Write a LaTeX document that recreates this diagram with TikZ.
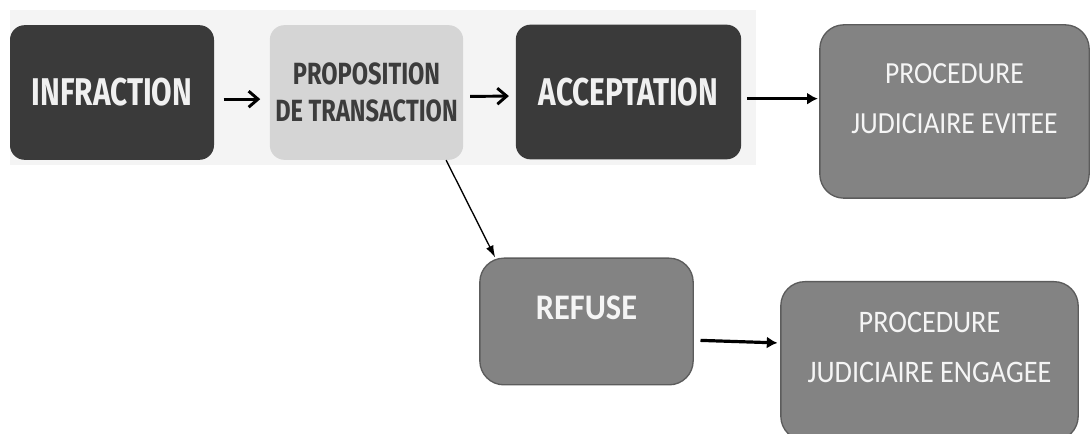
\documentclass[tikz,border=0pt]{standalone}
\usepackage{fontspec}
\usepackage{xcolor}
\usetikzlibrary{arrows.meta,calc}
\definecolor{darkbox}{RGB}{58, 58, 58}
\definecolor{lightbox}{RGB}{213, 213, 213}
\definecolor{greybox}{RGB}{131, 131, 131}
\definecolor{greyline}{RGB}{92, 92, 92}
\definecolor{panel}{RGB}{244, 244, 244}
\definecolor{inktext}{RGB}{60, 60, 60}
\newfontfamily\condfont[FakeStretch=0.77]{Fira Sans}
\newfontfamily\calfont[FakeStretch=0.9]{Carlito}

\begin{document}
\begin{tikzpicture}[x=0.75pt, y=-0.75pt,
    stagebox/.style={rounded corners=11pt, align=center, inner sep=0pt,
        font=\condfont\bfseries\fontsize{29}{30}\selectfont},
    outcomebox/.style={rounded corners=18pt, align=center, inner sep=0pt,
        fill=greybox, draw=greyline, line width=1pt, text=white!96!black},
    thinarrow/.style={line width=2.2pt, -{Straight Barb[length=7pt,width=12pt]}},
    boldarrow/.style={line width=2.4pt, -{Latex[length=8pt,width=9pt]}}]
    \useasboundingbox (0,0) rectangle (1090,434);
    \fill[panel] (10,10) rectangle (756,165);
    % top row
    \node[stagebox, fill=darkbox, text=white!94!black, minimum width=153pt, minimum height=101pt]
        (infraction) at (112,92.5) {INFRACTION};
    \node[stagebox, fill=lightbox, text=inktext, minimum width=145pt, minimum height=101pt,
        font=\condfont\bfseries\fontsize{23}{28}\selectfont]
        (proposition) at (366.5,92.5) {PROPOSITION\\DE TRANSACTION};
    \node[stagebox, fill=darkbox, text=white!94!black, minimum width=169pt, minimum height=101pt,
        font=\condfont\bfseries\fontsize{29}{30}\selectfont]
        (acceptation) at (628.5,92) {ACCEPTATION};
    \node[outcomebox, minimum width=202pt, minimum height=130pt,
        font=\calfont\fontsize{23}{37.5}\selectfont, text depth=20pt]
        (evitee) at (954.5,111.5) {PROCEDURE\\JUDICIAIRE EVITEE};
    % lower row
    \node[outcomebox, minimum width=160pt, minimum height=95pt,
        font=\calfont\bfseries\fontsize{27}{30}\selectfont, text height=18pt, text depth=21pt]
        (refuse) at (586.5,321.5) {REFUSE};
    \node[outcomebox, minimum width=223pt, minimum height=119pt,
        font=\calfont\fontsize{23.5}{37.5}\selectfont, text depth=21pt]
        (engagee) at (929.5,361) {PROCEDURE\\JUDICIAIRE ENGAGEE};
    % connectors
    \draw[thinarrow, shorten <=7pt, shorten >=7pt] ([yshift=-5pt]infraction.east) -- ([yshift=-5pt]proposition.west);
    \draw[thinarrow, shorten <=5pt, shorten >=5pt] ([yshift=-3pt]proposition.east) -- ([yshift=-3pt]acceptation.west);
    \draw[boldarrow, shorten <=4pt, shorten >=1pt] ([yshift=-5pt]acceptation.east) -- ([yshift=-5pt]evitee.west |- acceptation.east);
    \draw[line width=1pt, -{Latex[length=9pt,width=6pt]}] ([xshift=-13pt]proposition.south east) -- ([xshift=12pt]refuse.north west);
    \draw[boldarrow, shorten <=5pt, shorten >=2pt] ([yshift=-14pt]refuse.east) -- ([yshift=13.5pt]engagee.west);
\end{tikzpicture}
\end{document}
